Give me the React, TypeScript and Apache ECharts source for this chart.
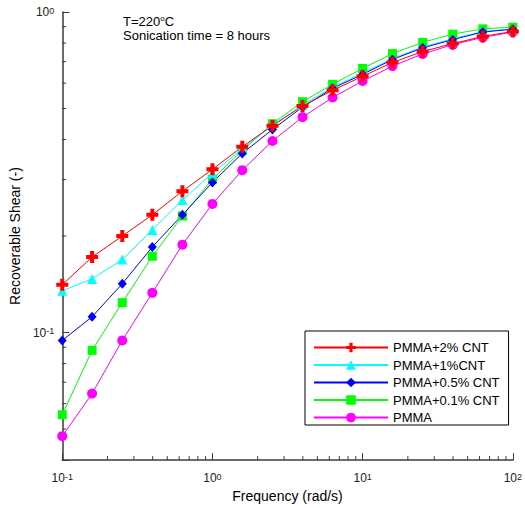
import React, { useEffect, useRef } from "react";
import * as echarts from "echarts";

const freq = [0.1, 0.158, 0.251, 0.398, 0.631, 1, 1.58, 2.51, 3.98, 6.31, 10, 15.8, 25.1, 39.8, 63.1, 100];
const cnt2 = [0.141, 0.172, 0.2, 0.233, 0.276, 0.323, 0.38, 0.442, 0.509, 0.57, 0.63, 0.696, 0.753, 0.797, 0.839, 0.869];
const cnt1 = [0.135, 0.147, 0.169, 0.209, 0.259, 0.314, 0.375, 0.443, 0.512, 0.583, 0.645, 0.716, 0.778, 0.825, 0.868, 0.887];
const cnt05 = [0.0945, 0.112, 0.142, 0.185, 0.233, 0.294, 0.362, 0.43, 0.505, 0.578, 0.639, 0.711, 0.773, 0.82, 0.866, 0.884];
const cnt01 = [0.0554, 0.088, 0.124, 0.173, 0.231, 0.301, 0.37, 0.448, 0.525, 0.595, 0.667, 0.742, 0.804, 0.853, 0.886, 0.897];
const pmma = [0.0475, 0.0645, 0.0945, 0.133, 0.188, 0.252, 0.321, 0.396, 0.47, 0.541, 0.609, 0.678, 0.74, 0.791, 0.833, 0.866];

const seriesNames = ["PMMA+2% CNT", "PMMA+1%CNT", "PMMA+0.5% CNT", "PMMA+0.1% CNT", "PMMA"];

const xMin = 0.1;
const xMax = 100;
const yMin = 0.04;
const yMax = 1;
const xMinorTicks = [0.2, 0.3, 0.4, 0.5, 0.6, 0.7, 0.8, 0.9, 2, 3, 4, 5, 6, 7, 8, 9, 20, 30, 40, 50, 60, 70, 80, 90];
const yMinorTicks = [0.05, 0.06, 0.07, 0.08, 0.09, 0.2, 0.3, 0.4, 0.5, 0.6, 0.7, 0.8, 0.9];

const FONT = "'Liberation Sans', Arial, sans-serif";
const AXIS_COLOR = "#3a3a3a";
const CROSS = "path://M4,0H8V4H12V8H8V12H4V8H0V4H4Z";

function powLabel(v: number): string {
  const e = Math.log10(v);
  const r = Math.round(e);
  if (Math.abs(e - r) > 1e-6) return "";
  return "10{sup|" + r + "}";
}

const labelRich = {
  sup: { fontSize: 9, lineHeight: 8, verticalAlign: "top", fontFamily: FONT, color: "#222" },
};

export default function App() {
  const ref = useRef<HTMLDivElement>(null);
  useEffect(() => {
    if (!ref.current) return;
    const chart = echarts.init(ref.current, null, { renderer: "svg" });
    const mk = (name: string, vals: number[], color: string, symbol: string, size: any) => ({
      name,
      type: "line",
      data: freq.map((f, i) => [f, vals[i]]),
      symbol,
      symbolSize: size,
      showAllSymbol: true,
      lineStyle: { color, width: 1 },
      itemStyle: { color },
      color,
    });
    const option: any = {
      animation: false,
      grid: { left: 62, right: 12, top: 12, bottom: 44 },
      legend: {
        data: seriesNames,
        orient: "vertical",
        left: 305,
        top: 331,
        itemWidth: 74,
        itemHeight: 12,
        itemGap: 4.5,
        padding: [10, 9, 1, 8],
        backgroundColor: "#fff",
        borderColor: "#000",
        borderWidth: 1,
        textStyle: { fontSize: 13, color: "#000", fontFamily: FONT },
      },
      xAxis: {
        type: "log",
        logBase: 10,
        min: xMin,
        max: xMax,
        name: "Frequency (rad/s)",
        nameLocation: "middle",
        nameGap: 26,
        nameTextStyle: { fontSize: 14, color: "#000", fontFamily: FONT },
        axisLine: { lineStyle: { color: AXIS_COLOR, width: 1.5 } },
        axisTick: { inside: true, length: 7, lineStyle: { color: AXIS_COLOR, width: 1 } },
        axisLabel: {
          margin: 12,
          fontSize: 12,
          color: "#222",
          fontFamily: FONT,
          showMinLabel: true,
          showMaxLabel: true,
          formatter: (v: number) => powLabel(v),
          rich: labelRich,
        },
        splitLine: { show: false },
        minorTick: { show: false },
      },
      yAxis: {
        type: "log",
        logBase: 10,
        min: yMin,
        max: yMax,
        name: "Recoverable Shear (-)",
        nameLocation: "middle",
        nameGap: 36,
        nameRotate: 90,
        nameTextStyle: { fontSize: 14, color: "#000", fontFamily: FONT },
        axisLine: { show: true, lineStyle: { color: AXIS_COLOR, width: 1.5 } },
        axisTick: { show: true, inside: true, length: 7, lineStyle: { color: AXIS_COLOR, width: 1 } },
        axisLabel: {
          margin: 8,
          fontSize: 12,
          color: "#222",
          fontFamily: FONT,
          showMinLabel: true,
          showMaxLabel: true,
          formatter: (v: number) => powLabel(v),
          rich: labelRich,
        },
        splitLine: { show: false },
        minorTick: { show: false },
      },
      graphic: [
        {
          type: "text",
          left: 123,
          top: 14,
          style: {
            text: "T=220{sup|o}C",
            rich: {
              sup: { fontSize: 8, lineHeight: 8, verticalAlign: "top", fontFamily: FONT, fill: "#000" },
            },
            fontSize: 13,
            lineHeight: 14,
            fontFamily: FONT,
            fill: "#000",
          },
        },
        {
          type: "text",
          left: 123,
          top: 29,
          style: { text: "Sonication time = 8 hours", fontSize: 13, fontFamily: FONT, fill: "#000" },
        },
      ],
      series: [
        {
          type: "custom",
          silent: true,
          clip: false,
          data: xMinorTicks.map((v) => [v, yMin]),
          renderItem: (params: any, api: any) => {
            const p = api.coord([api.value(0), api.value(1)]);
            return {
              type: "line",
              shape: { x1: p[0], y1: p[1], x2: p[0], y2: p[1] - 4 },
              style: { stroke: AXIS_COLOR, lineWidth: 1 },
            };
          },
        },
        {
          type: "custom",
          silent: true,
          clip: false,
          data: yMinorTicks.map((v) => [xMin, v]),
          renderItem: (params: any, api: any) => {
            const p = api.coord([api.value(0), api.value(1)]);
            return {
              type: "line",
              shape: { x1: p[0], y1: p[1], x2: p[0] + 4, y2: p[1] },
              style: { stroke: AXIS_COLOR, lineWidth: 1 },
            };
          },
        },
        mk(seriesNames[4], pmma, "#ff00ff", "circle", 10),
        mk(seriesNames[3], cnt01, "#00ff00", "rect", 9),
        mk(seriesNames[1], cnt1, "#00ffff", "triangle", 10),
        mk(seriesNames[2], cnt05, "#0000ff", "diamond", [9, 10]),
        mk(seriesNames[0], cnt2, "#ff0000", CROSS, 12),
      ],
    };
    chart.setOption(option);
    return () => chart.dispose();
  }, []);
  return (
    <div
      ref={ref}
      style={{ position: "fixed", left: 0, top: 0, width: 525, height: 508, background: "#fff" }}
    />
  );
}
